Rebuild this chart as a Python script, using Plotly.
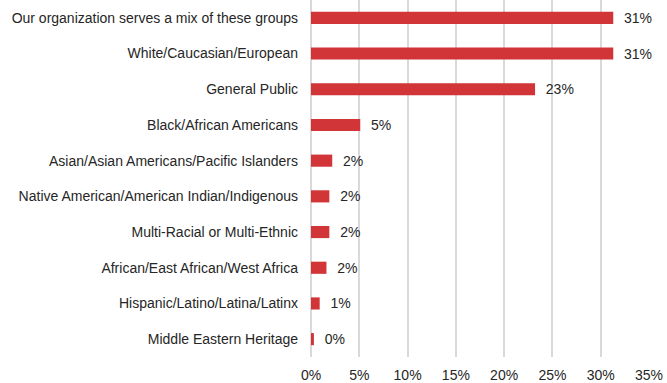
import plotly.graph_objects as go

# Share of organizations by population group served
groups = [
    "Our organization serves a mix of these groups",
    "White/Caucasian/European",
    "General Public",
    "Black/African Americans",
    "Asian/Asian Americans/Pacific Islanders",
    "Native American/American Indian/Indigenous",
    "Multi-Racial or Multi-Ethnic",
    "African/East African/West Africa",
    "Hispanic/Latino/Latina/Latinx",
    "Middle Eastern Heritage",
]
shares = [0.313, 0.313, 0.232, 0.051, 0.022, 0.019, 0.019, 0.016, 0.009, 0.003]
x_ticks = [0, 0.05, 0.10, 0.15, 0.20, 0.25, 0.30, 0.35]
x_tick_text = ["0%", "5%", "10%", "15%", "20%", "25%", "30%", "35%"]

FONT = "Liberation Sans, Arial, sans-serif"
TEXT_COLOR = "#262626"
GRID = "#d9d9d9"
FONT_SIZE = 14

fig = go.Figure(
    go.Bar(
        x=shares,
        y=groups,
        orientation="h",
        marker=dict(color="#d13538", line=dict(width=0)),
        width=0.34,
        texttemplate="  %{x:.0%}",
        textposition="outside",
        constraintext="none",
        cliponaxis=False,
        textfont=dict(family=FONT, size=FONT_SIZE, color=TEXT_COLOR),
        hoverinfo="skip",
    )
)

fig.update_layout(
    width=667,
    height=383,
    margin=dict(l=311, r=18, t=0, b=26),
    paper_bgcolor="white",
    plot_bgcolor="white",
    showlegend=False,
    font=dict(family=FONT, size=FONT_SIZE, color=TEXT_COLOR),
    xaxis=dict(
        range=[0, 0.35],
        tickvals=x_ticks,
        ticktext=x_tick_text,
        showgrid=True,
        gridcolor=GRID,
        gridwidth=1.5,
        zeroline=True,
        zerolinecolor=GRID,
        zerolinewidth=1.5,
        showline=False,
        ticks="",
        ticklabelstandoff=8,
        tickfont=dict(family=FONT, size=FONT_SIZE, color=TEXT_COLOR),
    ),
    yaxis=dict(
        categoryorder="array",
        categoryarray=groups[::-1],
        showgrid=False,
        zeroline=False,
        showline=False,
        ticks="",
        ticklabelstandoff=12,
        tickfont=dict(family=FONT, size=FONT_SIZE, color=TEXT_COLOR),
    ),
)

fig.write_html("out.html")
